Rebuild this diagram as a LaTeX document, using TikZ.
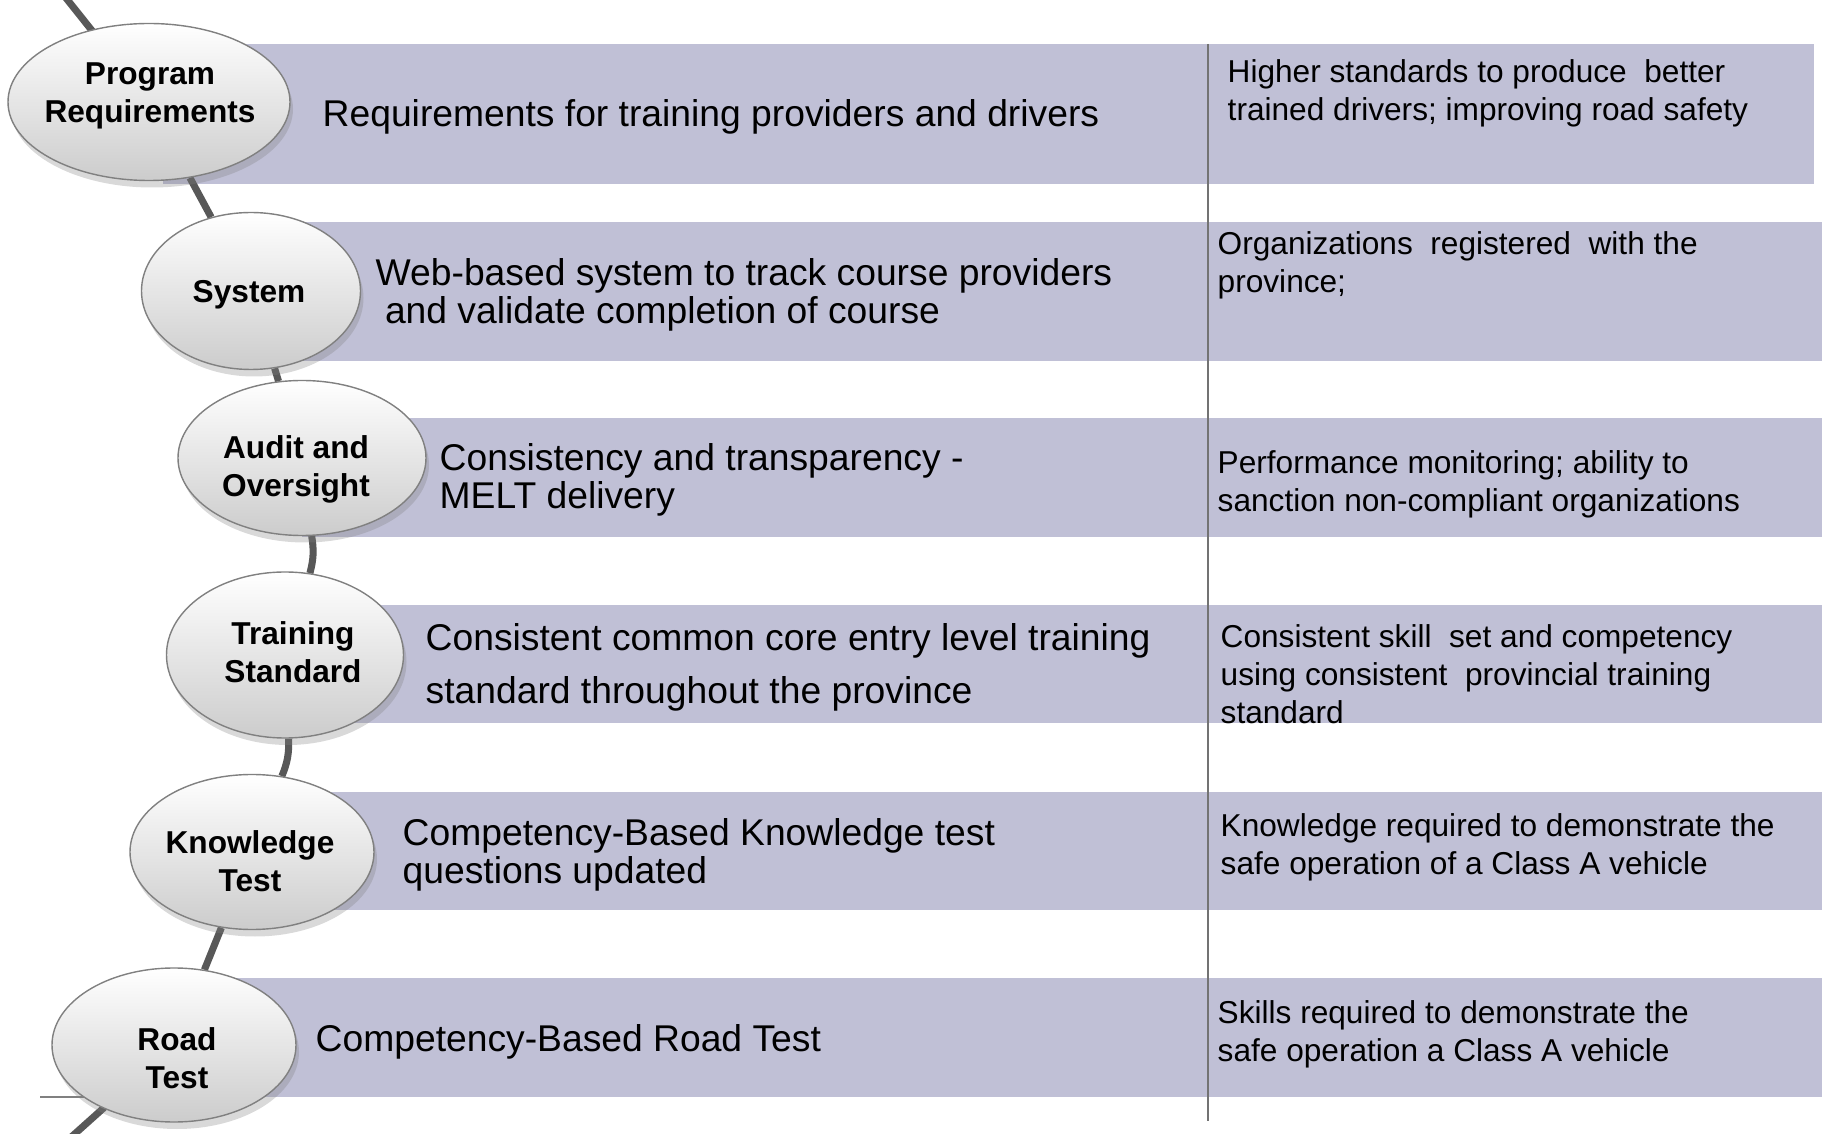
\documentclass[tikz,border=0pt]{standalone}
\usepackage{fontspec}
\setmainfont{Liberation Sans}
\usetikzlibrary{shapes.geometric,shadows,backgrounds}
\definecolor{bandfill}{RGB}{192,192,214}
\definecolor{spinegray}{RGB}{88,88,88}
\tikzset{
  band/.style={fill=bandfill},
  stage/.style={draw=black!50, ellipse, inner sep=0pt, top color=white, bottom color=black!20,
    drop shadow={opacity=0.3, shadow xshift=0.3mm, shadow yshift=-0.7mm}},
  stagetext/.style={font=\fontsize{9}{10.8}\selectfont\bfseries, align=center, inner sep=0pt},
  maintext/.style={anchor=west, align=left, font=\fontsize{10.6}{10.8}\selectfont, inner sep=0pt},
  goaltext/.style={anchor=west, align=left, font=\fontsize{9}{10.8}\selectfont, inner sep=0pt},
  spine/.style={draw=spinegray, line width=2pt},
}
\begin{document}
\begin{tikzpicture}[x=0.1mm,y=-0.1mm]
    \useasboundingbox (0,0) rectangle (1822,1134);

    % stages
    \coordinate (top) at (58,-12);
    \coordinate (bot) at (59,1148);
    \coordinate (stub) at (40,1097);
    \node[stage, minimum width=28.2mm, minimum height=15.7mm](pr) at (149,102) {};
    \node[stage, minimum width=21.9mm, minimum height=15.7mm](sys) at (251,291) {};
    \node[stage, minimum width=24.8mm, minimum height=15.5mm](aud) at (302,458) {};
    \node[stage, minimum width=23.7mm, minimum height=16.6mm](trn) at (285,655) {};
    \node[stage, minimum width=24.4mm, minimum height=15.5mm](knw) at (252,852) {};
    \node[stage, minimum width=24.4mm, minimum height=15.4mm](road) at (174,1045) {};

    \begin{pgfonlayer}{background}
    % bands
    \fill[band] (163,44) rectangle (1814,184);
    \fill[band] (261,222) rectangle (1822,361);
    \fill[band] (302,418) rectangle (1822,537);
    \fill[band] (295,605) rectangle (1822,723);
    \fill[band] (262,792) rectangle (1822,910);
    \fill[band] (184,978) rectangle (1822,1097);
    % spine
    \draw[spine] (top) -- (pr.center);
    \draw[spine] (pr) -- (sys);
    \draw[spine] (sys) -- (aud);
    \draw[spine] (aud) to[bend left=12] (trn);
    \draw[spine] (trn) to[bend left=12] (knw);
    \draw[spine] (knw) -- (road);
    \draw[spine] (road.center) -- (bot);
    \draw[black!50, line width=0.8pt] (stub) -- (stub -| road.center);
    \end{pgfonlayer}

    % divider
    \coordinate (dtop) at (1208,44);
    \coordinate (dbot) at (1208,1121);
    \draw[black!55, line width=0.5pt] (dtop) -- (dbot);

    % stage labels
    \node[stagetext](prt) at (150,96) {Program\\Requirements};
    \node[stagetext](syst) at (249,295) {System};
    \node[stagetext](audt) at (296,469) {Audit and\\Oversight};
    \node[stagetext](trnt) at (293,652) {Training\\Standard};
    \node[stagetext](knwt) at (250,861) {Knowledge\\Test};
    \node[stagetext](roadt) at (177,1058) {Road\\Test};

    % what
    \node[maintext](prm) at (322,117) {Requirements for training providers and drivers};
    \node[maintext](sysm) at (375,295) {Web-based system to track course providers\\\hspace{0.25em}and validate completion of course};
    \node[maintext](audm) at (439,480) {Consistency and transparency -\\MELT delivery};
    \node[maintext, font=\fontsize{10.6}{15.1}\selectfont](trnm) at (425,667) {Consistent common core entry level training\\standard throughout the province};
    \node[maintext](knwm) at (402,855) {Competency-Based Knowledge test\\questions updated};
    \node[maintext](roadm) at (315,1042) {Competency-Based Road Test};

    % why
    \node[goaltext](prg) at (1227,93) {Higher standards to produce\ \ better\\trained drivers; improving road safety};
    \node[goaltext](sysg) at (1217,265) {Organizations\ \ registered\ \ with the\\province;};
    \node[goaltext](audg) at (1217,484) {Performance monitoring; ability to\\sanction non-compliant organizations};
    \node[goaltext](trng) at (1220,674) {Consistent skill\ \ set and competency\\using consistent\ \ provincial training\\standard};
    \node[goaltext](knwg) at (1220,847) {Knowledge required to demonstrate the\\safe operation of a Class A vehicle};
    \node[goaltext](roadg) at (1217,1034) {Skills required to demonstrate the\\safe operation a Class A vehicle};
\end{tikzpicture}
\end{document}
